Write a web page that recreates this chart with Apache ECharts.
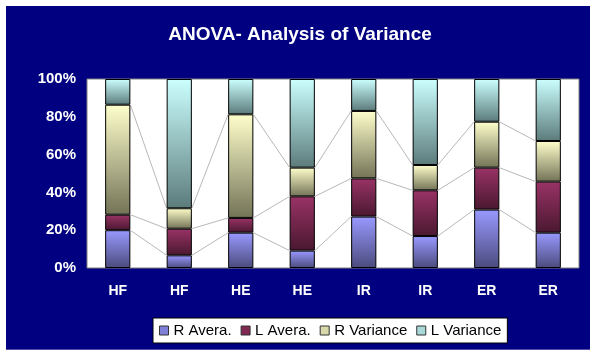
<!DOCTYPE html>
<html>
<head>
<meta charset="utf-8">
<script src="https://cdn.jsdelivr.net/npm/echarts@6/dist/echarts.min.js"></script>
<style>
  body { margin: 0; background: #fff; }
  #wrap { position: relative; width: 600px; height: 360px; }
  #frame { position: absolute; left: 6px; top: 6px; width: 584px; height: 344px; background: #000080; border-bottom: 1px solid #5050a8; box-sizing: border-box; }
  #chart { position: absolute; left: 0; top: 0; width: 600px; height: 360px; }
</style>
</head>
<body>
<div id="wrap">
  <div id="frame"></div>
  <div id="chart"></div>
</div>
<script>
const categories = ['HF', 'HF', 'HE', 'HE', 'IR', 'IR', 'ER', 'ER'];
const rAvera = [20.0, 6.7, 18.7, 9.2, 27.2, 16.9, 30.9, 18.7];
const lAvera = [8.2, 14.1, 7.8, 28.7, 20.2, 24.2, 22.2, 27.0];
const rVariance = [58.2, 10.8, 54.8, 15.2, 35.7, 13.4, 24.3, 21.5];
const lVariance = [13.6, 68.4, 18.7, 46.9, 16.9, 45.5, 22.6, 32.8];
const yTicks = [0, 20, 40, 60, 80, 100];

const FONT = '"Liberation Sans", Arial, sans-serif';
const BAR_RATIO = 0.41;

const chart = echarts.init(document.getElementById('chart'));

const grad = (top, bottom) => new echarts.graphic.LinearGradient(0, 0, 0, 1, [
  { offset: 0, color: top },
  { offset: 1, color: bottom }
]);

// cumulative tops of the first three segments, for the connecting lines
const cum1 = rAvera.map((v, i) => v);
const cum2 = rAvera.map((v, i) => v + lAvera[i]);
const cum3 = rAvera.map((v, i) => v + lAvera[i] + rVariance[i]);
const lineData = categories.slice(0, -1).map((c, i) => [
  i, cum1[i], cum2[i], cum3[i], cum1[i + 1], cum2[i + 1], cum3[i + 1]
]);

const barSeries = (name, data, top, bottom) => ({
  name: name,
  type: 'bar',
  stack: 'total',
  barWidth: (BAR_RATIO * 100) + '%',
  data: data,
  itemStyle: { color: grad(top, bottom), borderColor: '#000', borderWidth: 1 },
  emphasis: { disabled: true },
  z: 3
});

const option = {
  animation: false,
  backgroundColor: 'transparent',
  title: {
    text: 'ANOVA- Analysis of Variance',
    left: 'center',
    top: 20,
    textStyle: { color: '#fff', fontSize: 19, fontWeight: 'bold', fontFamily: FONT }
  },
  legend: {
    top: 318,
    left: 153,
    backgroundColor: '#fff',
    borderColor: '#000',
    borderWidth: 1,
    padding: [5, 6],
    itemGap: 9,
    itemWidth: 9,
    itemHeight: 9,
    icon: 'rect',
    textStyle: { color: '#000', fontSize: 15, fontFamily: FONT },
    data: [
      { name: 'R Avera.', itemStyle: { color: '#8080d8', borderColor: '#333', borderWidth: 1 } },
      { name: 'L Avera.', itemStyle: { color: '#80284f', borderColor: '#333', borderWidth: 1 } },
      { name: 'R Variance', itemStyle: { color: '#d8d8a8', borderColor: '#333', borderWidth: 1 } },
      { name: 'L Variance', itemStyle: { color: '#a8d8d8', borderColor: '#333', borderWidth: 1 } }
    ]
  },
  grid: {
    left: 87,
    right: 21,
    top: 79,
    bottom: 92,
    show: true,
    backgroundColor: '#fff',
    borderColor: '#808080',
    borderWidth: 1
  },
  xAxis: {
    type: 'category',
    data: categories,
    axisLine: { show: false },
    axisTick: { show: false },
    axisLabel: { color: '#fff', fontSize: 14, fontWeight: 'bold', fontFamily: FONT, margin: 16 }
  },
  yAxis: {
    type: 'value',
    min: yTicks[0],
    max: yTicks[yTicks.length - 1],
    interval: 20,
    axisLine: { show: false },
    axisTick: { show: false },
    splitLine: { show: false },
    axisLabel: { color: '#fff', fontSize: 15, fontWeight: 'bold', fontFamily: FONT, margin: 11, formatter: '{value}%' }
  },
  series: [
    barSeries('R Avera.', rAvera, '#9999ff', '#4b4b7e'),
    barSeries('L Avera.', lAvera, '#993366', '#4a1830'),
    barSeries('R Variance', rVariance, '#ffffcc', '#737357'),
    barSeries('L Variance', lVariance, '#ccffff', '#5c7b7b'),
    {
      type: 'custom',
      name: 'series lines',
      data: lineData,
      encode: { x: 0, y: 1 },
      silent: true,
      z: 2,
      renderItem: function (params, api) {
        const i = api.value(0);
        const half = api.size([1, 0])[0] * BAR_RATIO / 2;
        const children = [];
        for (let k = 0; k < 3; k++) {
          const a = api.coord([i, api.value(1 + k)]);
          const b = api.coord([i + 1, api.value(4 + k)]);
          children.push({
            type: 'line',
            shape: { x1: a[0] + half, y1: a[1], x2: b[0] - half, y2: b[1] },
            style: { stroke: '#b8b8b8', lineWidth: 1 }
          });
        }
        return { type: 'group', children: children };
      }
    }
  ]
};

chart.setOption(option);
</script>
</body>
</html>
